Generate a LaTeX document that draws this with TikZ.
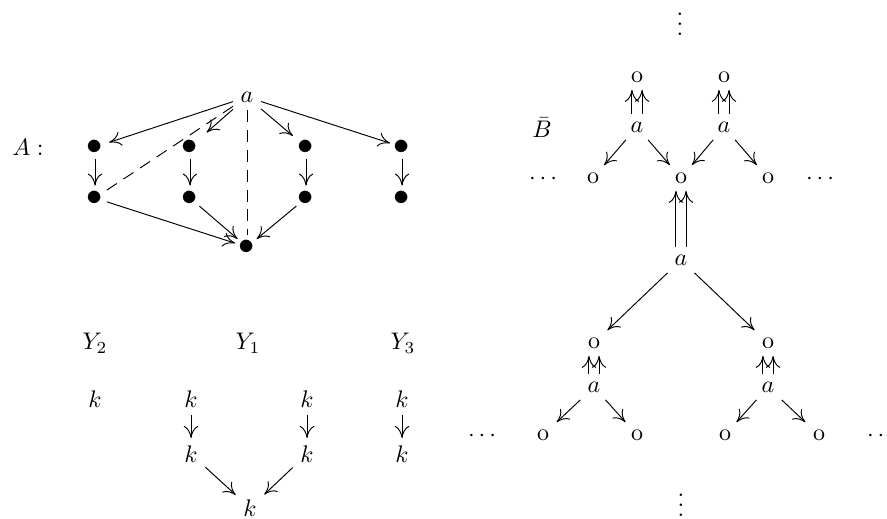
\documentclass[tikz,border=0pt]{standalone}
\usepackage{graphicx}
\usetikzlibrary{arrows.meta}
\begin{document}
\begin{tikzpicture}[x=0.4167pt,y=-0.4167pt,
  arr/.style={-{Computer Modern Rightarrow[length=5pt,width=6pt]}},
  dsh/.style={dash pattern=on 5pt off 3.3pt},
  lbl/.style={inner sep=3pt},
  pt/.style={circle,inner sep=0pt,minimum size=10pt},
  dotsnode/.style={inner sep=0pt,anchor=base}]
\useasboundingbox (0,0) rectangle (887,518);

% ---- the poset A ----
\newcommand{\pbul}{\scalebox{1.35}{$\bullet$}}
\node[lbl] (Alab) at (28,147) {$A:$};
\node[lbl] (top) at (247,97) {$a$};
\node[pt] (u1) at (95,147) {\pbul};
\node[pt] (u2) at (190,147) {\pbul};
\node[pt] (u3) at (306,147) {\pbul};
\node[pt] (u4) at (402,147) {\pbul};
\node[pt] (l1) at (95,198) {\pbul};
\node[pt] (l2) at (190,198) {\pbul};
\node[pt] (l3) at (306,198) {\pbul};
\node[pt] (l4) at (402,198) {\pbul};
\node[pt] (bot) at (247,247) {\pbul};

\draw[arr,shorten >=1pt] (top) -- (u1);
\draw[arr,shorten >=4pt] (top) -- (u2);
\draw[arr,shorten >=2pt] (top) -- (u3);
\draw[arr] (top) -- (u4);
\draw[dsh] (top) -- (l1);
\draw[dsh] (top) -- (bot);
\foreach \i in {1,2,3,4} \draw[arr] (u\i) -- (l\i);
\draw[arr] (l1) -- (bot);
\draw[arr] (l2) -- (bot);
\draw[arr] (l3) -- (bot);

% ---- the diagrams Y_1, Y_2, Y_3 ----
\node[lbl] (Y2) at (95,343) {$Y_2$};
\node[lbl] (Y1) at (248,343) {$Y_1$};
\node[lbl] (Y3) at (403,343) {$Y_3$};
\node[lbl] (ka) at (95,399) {$k$};
\node[lbl] (kb) at (191,399) {$k$};
\node[lbl] (kc) at (307,399) {$k$};
\node[lbl] (kd) at (402,399) {$k$};
\node[lbl] (mb) at (191,454) {$k$};
\node[lbl] (mc) at (307,454) {$k$};
\node[lbl] (md) at (402,454) {$k$};
\node[lbl] (kz) at (250,508) {$k$};
\draw[arr] (kb) -- (mb);
\draw[arr] (kc) -- (mc);
\draw[arr] (kd) -- (md);
\draw[arr] (mb) -- (kz);
\draw[arr] (mc) -- (kz);

% ---- the tree B-bar ----
\node[lbl] (Blab) at (542,128) {$\bar{B}$};
\node[dotsnode] (vtop) at (680,35) {$\vdots$};
\node[lbl] (o1) at (637,77) {$\mathrm{o}$};
\node[lbl] (o2) at (724,77) {$\mathrm{o}$};
\node[lbl] (a1) at (637,127) {$a$};
\node[lbl] (a2) at (724,127) {$a$};
\node[dotsnode] (cl) at (543,184) {$\cdots$};
\node[lbl] (p1) at (593,178) {$\mathrm{o}$};
\node[lbl] (p2) at (681,178) {$\mathrm{o}$};
\node[lbl] (p3) at (768,178) {$\mathrm{o}$};
\node[dotsnode] (cr) at (820,184) {$\cdots$};
\node[lbl] (root) at (681,260) {$a$};
\node[lbl] (q1) at (594,343) {$\mathrm{o}$};
\node[lbl] (q2) at (768,343) {$\mathrm{o}$};
\node[lbl] (b1) at (594,387) {$a$};
\node[lbl] (b2) at (768,387) {$a$};
\node[dotsnode] (cb) at (482,441) {$\cdots$};
\node[lbl] (r1) at (543,435) {$\mathrm{o}$};
\node[lbl] (r2) at (637,435) {$\mathrm{o}$};
\node[lbl] (r3) at (725,435) {$\mathrm{o}$};
\node[lbl] (r4) at (819,435) {$\mathrm{o}$};
\node[dotsnode] (cbr) at (881,441) {$\cdots$};
\node[dotsnode] (vbot) at (681,516) {$\vdots$};

% paired upward arrows
\foreach \s/\t in {a1/o1,a2/o2,root/p2,b1/q1,b2/q2}{
  \draw[arr] ([xshift=-2.1pt]\s.north) -- ([xshift=-2.1pt]\t.south);
  \draw[arr] ([xshift=2.1pt]\s.north) -- ([xshift=2.1pt]\t.south);
}
\draw[arr] (a1) -- (p1);
\draw[arr] (a1) -- (p2);
\draw[arr] (a2) -- (p2);
\draw[arr] (a2) -- (p3);
\draw[arr] (root) -- (q1);
\draw[arr] (root) -- (q2);
\draw[arr] (b1) -- (r1);
\draw[arr] (b1) -- (r2);
\draw[arr] (b2) -- (r3);
\draw[arr] (b2) -- (r4);
\end{tikzpicture}
\end{document}
